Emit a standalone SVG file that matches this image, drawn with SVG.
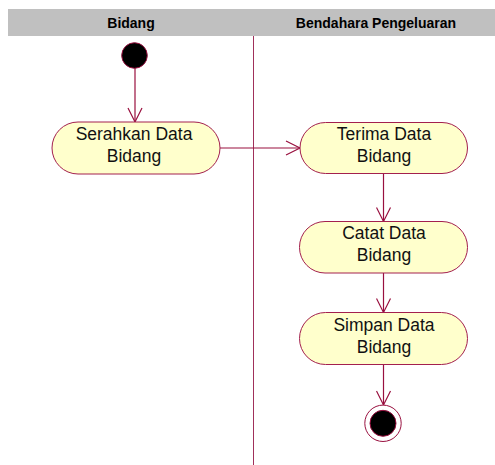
<svg xmlns="http://www.w3.org/2000/svg" width="495" height="465" viewBox="0 0 495 465">
  <style>
    .lane-title { font-family: "Liberation Sans", Arial, sans-serif; font-size: 14px; font-weight: bold; fill: #000; text-anchor: middle; }
    .act { fill: #ffffcc; stroke: #a3204e; stroke-width: 1; }
    .label { font-family: "Liberation Sans", Arial, sans-serif; font-size: 17.5px; fill: #111; text-anchor: middle; }
    .flow { stroke: #99103f; stroke-width: 1.2; fill: none; }
  </style>
  <defs>
    <marker id="open-arrow" markerWidth="18" markerHeight="16" refX="15" refY="8" orient="auto" markerUnits="userSpaceOnUse">
      <path d="M1,1 L15,8 L1,15" fill="none" stroke="#99103f" stroke-width="1.2"/>
    </marker>
  </defs>

  <rect width="495" height="465" fill="#ffffff"/>

  <!-- swimlane header -->
  <g id="lanes">
    <rect x="8" y="9" width="487" height="27" fill="#c0c0c0"/>
    <text class="lane-title" x="131" y="28">Bidang</text>
    <text class="lane-title" x="376" y="28">Bendahara Pengeluaran</text>
    <line x1="253.5" y1="36" x2="253.5" y2="465" stroke="#a0305a" stroke-width="1"/>
  </g>

  <!-- control flows -->
  <g id="connectors">
    <line class="flow" x1="135" y1="68" x2="135" y2="122" marker-end="url(#open-arrow)"/>
    <line class="flow" x1="220" y1="148" x2="300" y2="148" marker-end="url(#open-arrow)"/>
    <line class="flow" x1="383.5" y1="173" x2="383.5" y2="221.5" marker-end="url(#open-arrow)"/>
    <line class="flow" x1="383.5" y1="273" x2="383.5" y2="312.5" marker-end="url(#open-arrow)"/>
    <line class="flow" x1="383.5" y1="364" x2="383.5" y2="405" marker-end="url(#open-arrow)"/>
  </g>

  <g id="start">
    <circle cx="134.5" cy="55.5" r="12.8" fill="#000" stroke="#99103f" stroke-width="1"/>
  </g>

  <g id="serahkan">
    <rect class="act" x="52" y="122" width="168" height="52" rx="26" ry="26"/>
    <text class="label" x="134" y="140">Serahkan Data</text>
    <text class="label" x="134" y="162">Bidang</text>
  </g>

  <g id="terima">
    <rect class="act" x="300" y="122.5" width="167.5" height="51" rx="25.5" ry="25.5"/>
    <text class="label" x="384" y="139.5">Terima Data</text>
    <text class="label" x="384" y="162">Bidang</text>
  </g>

  <g id="catat">
    <rect class="act" x="299.5" y="221.5" width="168" height="51.5" rx="25.5" ry="25.5"/>
    <text class="label" x="384" y="238.5">Catat Data</text>
    <text class="label" x="384" y="261">Bidang</text>
  </g>

  <g id="simpan">
    <rect class="act" x="299.5" y="312.5" width="168" height="52" rx="26" ry="26"/>
    <text class="label" x="384" y="331">Simpan Data</text>
    <text class="label" x="384" y="353">Bidang</text>
  </g>

  <g id="end">
    <circle cx="383" cy="423.3" r="18.2" fill="#ffffff" stroke="#99103f" stroke-width="1"/>
    <circle cx="383" cy="423.3" r="13" fill="#000" stroke="#99103f" stroke-width="1"/>
  </g>
</svg>
